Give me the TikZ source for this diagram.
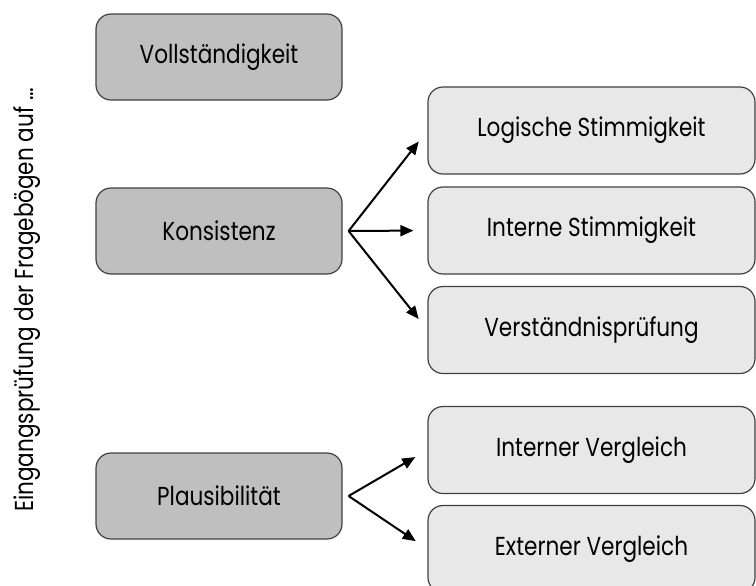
\documentclass[tikz,border=0pt]{standalone}
\usepackage{fontspec}
\setmainfont{Poppins}[FakeStretch=0.83]
\usepackage{tikz}
\usetikzlibrary{arrows.meta}

\begin{document}
\begin{tikzpicture}[x=0.5pt, y=-0.5pt,
    hauptbox/.style={draw=black!75, line width=0.6pt, rounded corners=7.5pt, fill=black!25,
        minimum width=123pt, minimum height=43pt, font=\fontsize{13}{15}\selectfont},
    unterbox/.style={draw=black!75, line width=0.6pt, rounded corners=7.5pt, fill=black!9,
        minimum width=163.5pt, minimum height=43.5pt, font=\fontsize{13}{15}\selectfont},
    pfeil/.style={line width=1pt, -{Triangle[length=6.5pt, width=5.5pt]}, shorten >=7pt}]
    \useasboundingbox (0,0) rectangle (756,585);

    % Seitentitel
    \node[rotate=90, anchor=base, inner sep=0pt, font=\fontsize{13}{15}\selectfont] (titel) at (33,300)
        {Eingangsprüfung der Fragebögen auf \dots};

    % Hauptkriterien
    \node[hauptbox] (voll) at (219,57) {Vollständigkeit};
    \node[hauptbox] (kons) at (219,231) {Konsistenz};
    \node[hauptbox] (plaus) at (219,496) {Plausibilität};

    % Unterkriterien
    \node[unterbox] (logik) at (591.5,130.5) {Logische Stimmigkeit};
    \node[unterbox] (intern) at (591.5,230.5) {Interne Stimmigkeit};
    \node[unterbox] (verst) at (591.5,330) {Verständnisprüfung};
    \node[unterbox] (ivgl) at (591.5,450) {Interner Vergleich};
    \node[unterbox] (evgl) at (591.5,549) {Externer Vergleich};

    % Pfeile
    \coordinate (kons-aus) at ([xshift=3pt]kons.east);
    \coordinate (plaus-aus) at ([xshift=3pt]plaus.east);
    \draw[pfeil] (kons-aus) -- (logik.west);
    \draw[pfeil] (kons-aus) -- (intern.west);
    \draw[pfeil] (kons-aus) -- (verst.west);
    \draw[pfeil] (plaus-aus) -- (ivgl.west);
    \draw[pfeil] (plaus-aus) -- (evgl.west);
\end{tikzpicture}
\end{document}
